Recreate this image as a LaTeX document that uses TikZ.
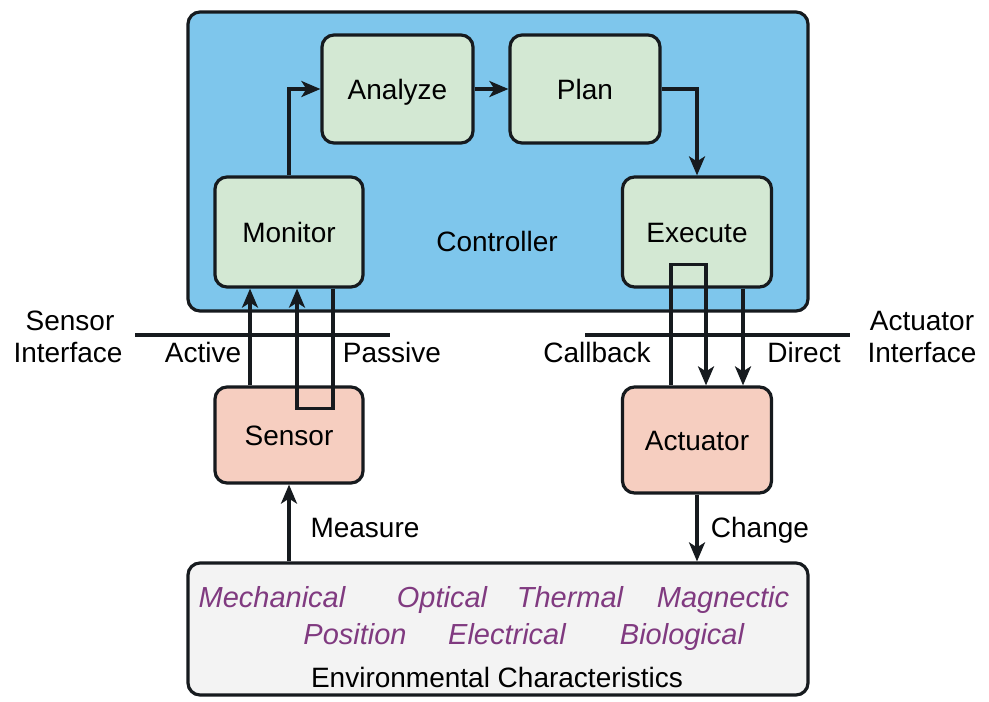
\documentclass[tikz,border=0pt]{standalone}
\usepackage{fontspec}
\setmainfont{Liberation Sans}
\usetikzlibrary{arrows.meta}
\definecolor{ctrlblue}{RGB}{126,198,236}
\definecolor{mapegreen}{RGB}{211,232,211}
\definecolor{devpink}{RGB}{246,206,192}
\definecolor{envgray}{RGB}{243,243,243}
\definecolor{edge}{RGB}{22,26,30}
\definecolor{charpurple}{RGB}{128,58,128}
\tikzset{
  box/.style={draw=edge, line width=3.2pt, rounded corners=12pt, inner sep=0pt,
    font=\fontsize{28}{32}\selectfont, text height=20pt, text depth=0pt},
  loopbox/.style={box, fill=mapegreen},
  devbox/.style={box, fill=devpink},
  arr/.style={draw=edge, line width=3.2pt, -{Stealth[length=19pt,width=16pt,inset=5pt]}},
  wire/.style={draw=edge, line width=3.2pt},
  lbl/.style={font=\fontsize{28}{32}\selectfont, inner sep=0pt, anchor=base},
  chr/.style={font=\fontsize{29}{32}\selectfont\itshape, text=charpurple, inner sep=0pt, anchor=base}
}
\begin{document}
\begin{tikzpicture}[x=1pt,y=-1pt]
\useasboundingbox (0,0) rectangle (989,702);
\fill[white] (0,0) rectangle (989,702);

% controller and its MAPE stages
\node[box, fill=ctrlblue, minimum width=620pt, minimum height=299pt] (ctrl) at (498,161.5) {};
\node[lbl] (ctrllbl) at (497,251) {Controller};
\node[loopbox, minimum width=151pt, minimum height=108pt] (analyze) at (397.5,89) {Analyze};
\node[loopbox, minimum width=150pt, minimum height=108pt] (plan) at (585,89) {Plan};
\node[loopbox, minimum width=148pt, minimum height=110pt] (monitor) at (289,232) {Monitor};
\node[loopbox, minimum width=149pt, minimum height=110pt] (execute) at (697,232) {Execute};

% devices
\node[devbox, minimum width=148pt, minimum height=96pt] (sensor) at (289,435) {Sensor};
\node[devbox, minimum width=149pt, minimum height=106pt] (actuator) at (697,440) {Actuator};

% environment
\node[box, fill=envgray, minimum width=620pt, minimum height=132pt] (env) at (498,629) {};
\node[chr] (mech) at (272,607) {Mechanical};
\node[chr] (opt) at (442,607) {Optical};
\node[chr] (therm) at (570,607) {Thermal};
\node[chr] (magn) at (723,607) {Magnectic};
\node[chr] (pos) at (355,644) {Position};
\node[chr] (elec) at (507,644) {Electrical};
\node[chr] (bio) at (682,644) {Biological};
\node[lbl] (envlbl) at (497,687) {Environmental Characteristics};

% interfaces
\draw[wire] (135,335) -- (390,335);
\draw[wire] (585,335) -- (850,335);
\node[lbl] (si1) at (70,330) {Sensor};
\node[lbl] (si2) at (68,362) {Interface};
\node[lbl] (active) at (203,362) {Active};
\node[lbl] (passive) at (392,362) {Passive};
\node[lbl] (callback) at (597,362) {Callback};
\node[lbl] (direct) at (804,362) {Direct};
\node[lbl] (ai1) at (922,330) {Actuator};
\node[lbl] (ai2) at (922,362) {Interface};

% MAPE flow
\draw[arr] (monitor.north) |- (analyze.west);
\draw[arr] (analyze) -- (plan);
\draw[arr] (plan.east) -| (execute.north);

% sensing
\draw[arr] ([xshift=-39pt]sensor.north) -- ([xshift=-39pt]monitor.south);
\draw[arr] ([xshift=44pt]monitor.south) -- ++(0,120) -| ([xshift=8pt]monitor.south);

% actuation
\draw[arr] ([xshift=-26pt]actuator.north) -- ++(0,-121) -| ([xshift=9pt]actuator.north);
\draw[arr] ([xshift=46pt]execute.south) -- ([xshift=46pt]actuator.north);

% environment links
\draw[arr] (sensor.south |- env.north) -- (sensor.south);
\node[lbl] (measure) at (365,537) {Measure};
\draw[arr] (actuator.south) -- (actuator.south |- env.north);
\node[lbl] (change) at (760,537) {Change};
\end{tikzpicture}
\end{document}
